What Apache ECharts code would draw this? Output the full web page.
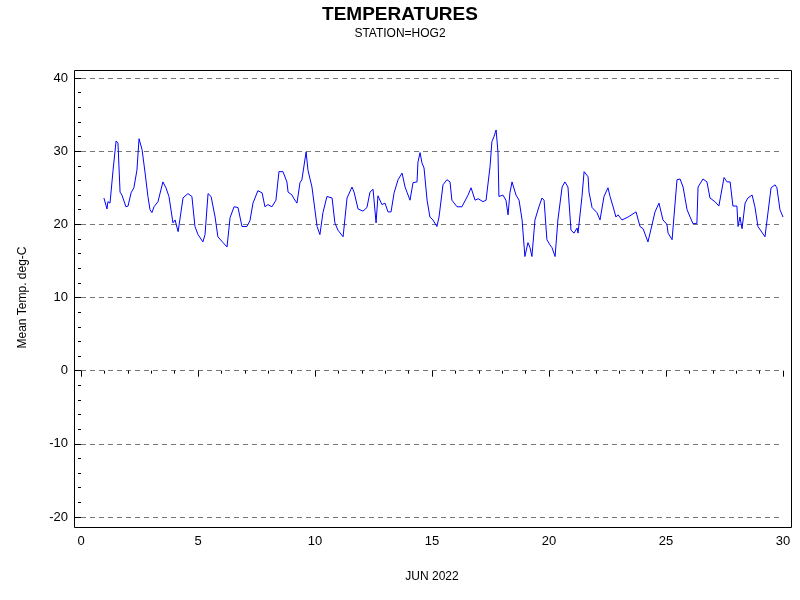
<!DOCTYPE html>
<html><head><meta charset="utf-8">
<script src="https://cdn.jsdelivr.net/npm/echarts@6/dist/echarts.min.js"></script>
<style>html,body{margin:0;padding:0;background:#fff}#c{width:800px;height:600px}</style>
</head><body><div id="c"></div>
<script>
const days = [0.98,1.11,1.15,1.24,1.37,1.50,1.58,1.67,1.75,1.92,2.01,2.14,2.26,2.39,2.48,2.61,2.74,2.86,2.95,3.03,3.12,3.29,3.50,3.63,3.76,3.93,4.02,4.15,4.23,4.36,4.57,4.74,4.87,5.00,5.21,5.30,5.43,5.56,5.73,5.85,6.07,6.24,6.37,6.54,6.71,6.88,7.09,7.22,7.35,7.56,7.74,7.86,7.99,8.16,
8.33,8.46,8.63,8.80,8.85,9.02,9.10,9.23,9.36,9.44,9.62,9.70,9.87,10.09,10.21,10.34,10.51,10.73,10.85,10.98,11.20,11.37,11.58,11.67,11.84,12.05,12.22,12.35,12.48,12.61,12.69,12.86,12.99,13.12,13.25,13.38,13.55,13.72,13.85,13.93,14.06,14.19,14.36,14.40,14.49,14.57,14.66,14.79,14.91,15.04,15.21,15.30,15.47,15.64,15.77,
15.85,16.07,16.28,16.54,16.67,16.84,16.97,17.18,17.31,17.48,17.56,17.65,17.74,17.82,17.86,18.03,18.16,18.25,18.33,18.42,18.46,18.59,18.72,18.85,18.97,19.10,19.19,19.27,19.40,19.57,19.70,19.79,19.91,20.04,20.13,20.26,20.38,20.56,20.68,20.81,20.94,21.07,21.20,21.24,21.41,21.50,21.67,21.71,21.84,22.05,22.18,22.35,22.52,22.61,22.74,22.86,22.95,23.12,
23.38,23.72,23.89,24.02,24.23,24.40,24.53,24.70,24.87,25.04,25.09,25.26,25.47,25.60,25.73,25.90,26.03,26.15,26.32,26.37,26.58,26.75,26.88,27.09,27.26,27.48,27.61,27.74,27.86,28.03,28.08,28.16,28.25,28.38,28.50,28.68,28.80,28.93,29.23,29.49,29.66,29.74,29.87,30.00];
const temps = [23.6,22.1,23.1,22.9,27.4,31.4,31.1,24.4,24.0,22.4,22.5,24.3,25.0,27.4,31.7,30.2,27.0,23.8,22.0,21.6,22.4,23.1,25.8,25.0,23.8,20.2,20.6,19.0,18.8,23.6,24.2,23.8,19.7,18.6,17.6,18.6,24.2,23.8,21.0,18.3,17.5,16.9,20.9,22.4,22.3,19.7,19.7,20.5,22.9,24.6,24.3,22.4,22.7,22.4,
23.3,27.2,27.2,25.8,24.4,24.0,23.5,22.9,25.7,26.1,29.9,27.4,25.1,19.7,18.6,21.6,23.8,23.6,20.2,19.2,18.3,23.6,25.1,24.4,22.1,21.8,22.3,24.4,24.8,20.2,23.9,22.7,22.9,21.7,21.7,24.3,26.1,27.0,25.1,24.4,23.3,25.7,25.8,28.5,29.8,28.4,27.7,23.3,21.0,20.6,19.7,21.0,25.4,26.1,25.8,
23.3,22.4,22.4,24.0,25.0,23.3,23.5,23.1,23.3,27.9,31.3,32.0,32.9,29.8,23.8,24.0,23.3,21.3,24.3,25.8,25.9,24.0,23.3,20.6,15.6,17.5,16.8,15.6,20.6,22.4,23.6,23.3,17.9,17.2,16.8,15.6,20.6,25.1,25.8,25.1,19.2,18.8,19.5,18.8,23.8,27.2,26.5,24.4,22.3,21.6,20.6,23.8,25.0,23.8,22.4,21.0,21.3,20.6,
21.0,21.7,19.7,19.4,17.6,19.9,21.7,22.9,20.6,20.0,18.8,17.9,26.1,26.2,25.1,22.0,21.0,20.1,20.1,25.1,26.2,25.8,23.6,23.1,22.5,26.4,25.8,25.8,22.5,22.5,19.7,21.0,19.4,22.9,23.6,24.0,22.4,19.7,18.3,25.0,25.4,25.0,22.0,21.0];
const xTicks = [0,5,10,15,20,25,30];
const yTicks = [-20,-10,0,10,20,30,40];
const titleText = 'TEMPERATURES', subText = 'STATION=HOG2';
const xName = 'JUN 2022', yName = 'Mean Temp. deg-C';

const chart = echarts.init(document.getElementById('c'));
const txt = {color:'#000', fontFamily:'Arial, Liberation Sans, sans-serif', fontSize:12};
chart.setOption({
  animation:false,
  title:{text:titleText, subtext:subText, left:'center', top:0, itemGap:4,
    textStyle:{fontSize:19,fontWeight:'bold',color:'#000',fontFamily:'Arial, Liberation Sans, sans-serif'},
    subtextStyle:{fontSize:12,color:'#000',fontFamily:'Arial, Liberation Sans, sans-serif'}},
  grid:{left:81,right:17,top:78,bottom:83},
  graphic:[{type:'rect',shape:{x:74.5,y:70.5,width:717,height:457},style:{fill:'none',stroke:'#000',lineWidth:1},z:100}],
  xAxis:{type:'value',min:0,max:30,interval:5,offset:10,
    name:xName,nameLocation:'middle',nameGap:44,nameTextStyle:txt,
    axisLine:{show:false},axisTick:{show:true,length:6,lineStyle:{color:'#000'}},
    minorTick:{show:true,splitNumber:5,length:3,lineStyle:{color:'#000'}},
    axisLabel:{...txt,fontSize:13,margin:8},splitLine:{show:false}},
  yAxis:{type:'value',min:-20,max:40,interval:10,offset:7,
    name:yName,nameLocation:'middle',nameGap:45,nameTextStyle:txt,
    axisLine:{show:false},axisTick:{show:true,length:6,lineStyle:{color:'#000'}},
    minorTick:{show:true,splitNumber:5,length:3,lineStyle:{color:'#000'}},
    axisLabel:{...txt,fontSize:13,margin:6},
    splitLine:{show:true,lineStyle:{color:'#777',type:[5,4],width:1}}},
  series:[{type:'line',data:days.map((d,i)=>[d,temps[i]]),showSymbol:false,
    lineStyle:{color:'#0000ff',width:1},itemStyle:{color:'#0000ff'}}]
});
</script></body></html>
